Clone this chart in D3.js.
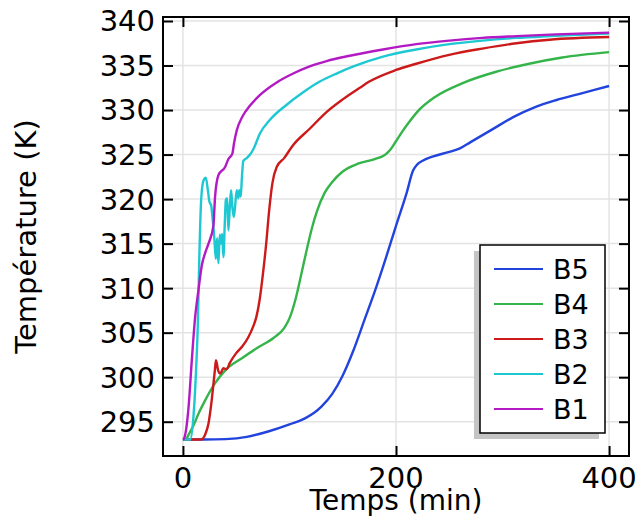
<!DOCTYPE html>
<html>
<head>
<meta charset="utf-8">
<script src="https://cdn.jsdelivr.net/npm/d3@7"></script>
<style>
  html, body { margin: 0; padding: 0; background: #fff; }
  svg { display: block; font-family: "DejaVu Sans", sans-serif; }
</style>
</head>
<body>
<svg id="chart" width="639" height="520"></svg>
<script>
// ---- data (time in min, temperature in K) ----
const seriesNames = ["B5", "B4", "B3", "B2", "B1"];
const seriesColors = ["#2244dd", "#35b44a", "#cc1a1a", "#1ec8d2", "#b31ac4"];

const B5 = [[0,293],[20,293],[40,293.05],[60,293.3],[80,293.9],[100,294.7],[115,295.4],[130,296.7],[140,298.1],[150,300.2],[160,303],[170,306.3],[180,309.6],[190,313.2],[200,317],[210,320.7],[216,323.2],[220,323.9],[225,324.3],[235,324.8],[250,325.3],[260,325.7],[270,326.4],[290,327.8],[310,329.2],[330,330.3],[350,331.1],[375,331.9],[400,332.7]];

const B4 = [[3,293],[6,293.7],[10,294.6],[15,296],[20,297.2],[30,299.3],[40,300.8],[55,302.1],[70,303.3],[85,304.4],[95,305.5],[100,306.6],[106,308.9],[111,311.5],[116,314.2],[121,316.7],[126,318.7],[133,320.7],[140,321.9],[150,323.1],[165,324],[180,324.5],[190,325],[195,325.6],[200,326.5],[206,327.6],[212,328.6],[220,329.8],[237,331.5],[262,333],[294,334.3],[325,335.2],[356,335.9],[400,336.5]];

const B3 = [[0,293],[17,293],[21,293.6],[24,294.8],[27,297.4],[30,300.8],[31,301.9],[33,300.8],[35,300.4],[38,301],[41,300.9],[44,301.6],[50,302.7],[56,303.5],[61,304.4],[66,305.7],[69,306.8],[72,308.7],[75,311.5],[78,314.8],[81,318.8],[84,321.8],[88,323.6],[95,324.6],[103,326],[119,327.9],[135,329.8],[150,331.2],[166,332.5],[175,333.2],[200,334.5],[219,335.2],[250,336.2],[281,336.9],[313,337.5],[344,337.9],[400,338.2]];

const B2 = [[0,293],[6.8,293],[9.9,295.6],[12.2,300.4],[14,306],[15.3,313],[17.1,319.9],[19.3,322.1],[21.5,322.4],[23.4,321],[24.9,319.7],[26.5,319.3],[27.7,318],[28.6,316.9],[29.6,315.4],[30.9,313.3],[32.1,315.6],[33.3,312.8],[34.6,316],[35.9,315],[36.8,316.1],[38,313.5],[39.3,317.3],[40.3,319.9],[41.5,320.1],[42.7,316.5],[44,319.1],[45.2,321],[46.4,319.1],[47.7,318],[48.9,319.1],[50.5,321],[52,320.1],[53,321],[54.3,320.3],[55.2,322.1],[56.7,324.3],[59.9,324.6],[63,325],[66.1,325.6],[72.4,327.4],[81.7,328.9],[97.4,330.6],[112.9,332],[128.5,333.2],[144.2,334.1],[160,334.9],[187.8,336],[219,336.8],[250,337.4],[281,337.8],[313,338.1],[344,338.3],[400,338.6]];

const B1 = [[0,293],[1,293.1],[5.2,296.5],[8.4,302],[11.5,306.8],[14.6,309.8],[17.8,312.6],[21,314],[24,315],[28.6,317],[30.2,320.3],[33.4,322.7],[39.6,323.6],[42.7,324.5],[46.4,325.1],[48,326.3],[50.5,327.7],[56,329.3],[63,330.5],[72.4,331.7],[88,333.1],[103.5,334.1],[119,334.9],[134.8,335.5],[156.6,336.1],[187.8,336.8],[219,337.4],[250,337.8],[281,338.1],[313,338.3],[350,338.5],[400,338.7]];

const seriesData = [B5, B4, B3, B2, B1];

const xTicks = [0, 200, 400];
const yTicks = [295, 300, 305, 310, 315, 320, 325, 330, 335, 340];
const xTitle = "Temps (min)";
const yTitle = "Température (K)";

// ---- layout ----
const svg = d3.select("#chart");
const L = 163, R = 629, T = 17, B = 456;

const x = d3.scaleLinear().domain([-18.7, 418.7]).range([L, R]);
const y = d3.scaleLinear().domain([291.15, 340.45]).range([B, T]);

// clip
svg.append("clipPath").attr("id", "plotclip")
  .append("rect").attr("x", L).attr("y", T).attr("width", R - L).attr("height", B - T);

// grid
const grid = svg.append("g");
grid.selectAll("line.gy").data(yTicks).join("line")
  .attr("x1", L).attr("x2", R)
  .attr("y1", d => y(d)).attr("y2", d => y(d))
  .attr("stroke", "#e3e3e3").attr("stroke-width", 1.5);
grid.selectAll("line.gx").data(xTicks).join("line")
  .attr("y1", T).attr("y2", B)
  .attr("x1", d => x(d)).attr("x2", d => x(d))
  .attr("stroke", "#e3e3e3").attr("stroke-width", 1.5);

// lines
const line = d3.line().x(d => x(d[0])).y(d => y(d[1])).curve(d3.curveMonotoneX);
const lines = svg.append("g").attr("clip-path", "url(#plotclip)");
seriesData.forEach((s, i) => {
  lines.append("path").datum(s)
    .attr("d", line)
    .attr("fill", "none")
    .attr("stroke", seriesColors[i])
    .attr("stroke-width", 2.4)
    .attr("stroke-linejoin", "round");
});

// axes (ticks inward, on all four sides)
const tickLen = 10;
const axB = svg.append("g").attr("transform", `translate(0,${B})`)
  .call(d3.axisBottom(x).tickValues(xTicks).tickSizeInner(-tickLen).tickSizeOuter(0).tickFormat(""));
const axT = svg.append("g").attr("transform", `translate(0,${T})`)
  .call(d3.axisTop(x).tickValues(xTicks).tickSizeInner(-tickLen).tickSizeOuter(0).tickFormat(""));
const axL = svg.append("g").attr("transform", `translate(${L},0)`)
  .call(d3.axisLeft(y).tickValues(yTicks).tickSizeInner(-tickLen).tickSizeOuter(0).tickFormat(""));
const axR = svg.append("g").attr("transform", `translate(${R},0)`)
  .call(d3.axisRight(y).tickValues(yTicks).tickSizeInner(-tickLen).tickSizeOuter(0).tickFormat(""));
[axB, axT, axL, axR].forEach(a => {
  a.selectAll(".domain").remove();
  a.selectAll(".tick line").attr("stroke", "#000").attr("stroke-width", 2);
});

// frame
svg.append("rect").attr("x", L).attr("y", T).attr("width", R - L).attr("height", B - T)
  .attr("fill", "none").attr("stroke", "#000").attr("stroke-width", 2);

// tick labels
svg.append("g").selectAll("text").data(xTicks).join("text")
  .attr("x", d => x(d)).attr("y", 488)
  .attr("text-anchor", "middle").attr("font-size", 29).attr("fill", "#000")
  .text(d => d);
svg.append("g").selectAll("text").data(yTicks).join("text")
  .attr("x", 155).attr("y", d => y(d))
  .attr("dy", "0.36em")
  .attr("text-anchor", "end").attr("font-size", 29).attr("fill", "#000")
  .text(d => d);

// axis titles
svg.append("text").attr("x", (L + R) / 2).attr("y", 510)
  .attr("text-anchor", "middle").attr("font-size", 28).attr("fill", "#000")
  .text(xTitle);
svg.append("text").attr("transform", `translate(36,${(T + B) / 2}) rotate(-90)`)
  .attr("text-anchor", "middle").attr("font-size", 29).attr("fill", "#000")
  .text(yTitle);

// legend
const lg = svg.append("g");
lg.append("rect").attr("x", 474).attr("y", 251).attr("width", 125).attr("height", 188)
  .attr("fill", "#c4c4c4");
lg.append("rect").attr("x", 480).attr("y", 245).attr("width", 125).attr("height", 188)
  .attr("fill", "#fff").attr("stroke", "#000").attr("stroke-width", 1.5);
seriesNames.forEach((n, i) => {
  const yy = 269 + i * 35;
  lg.append("line").attr("x1", 494).attr("x2", 543).attr("y1", yy).attr("y2", yy)
    .attr("stroke", seriesColors[i]).attr("stroke-width", 1.8);
  lg.append("text").attr("x", 553).attr("y", yy).attr("dy", "0.36em")
    .attr("font-size", 27).attr("fill", "#000").text(n);
});
</script>
</body>
</html>
